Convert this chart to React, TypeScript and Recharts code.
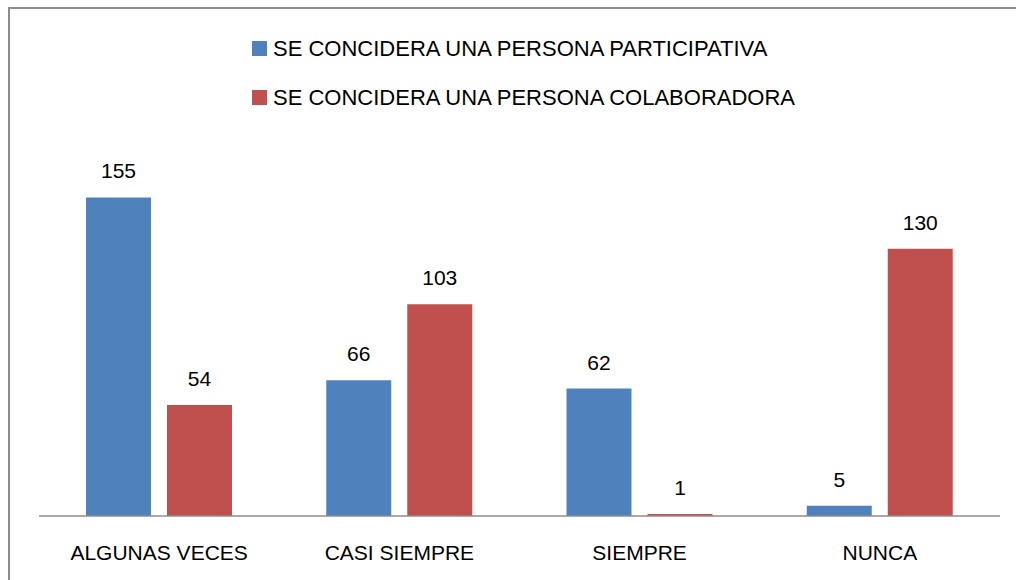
import { BarChart, Bar, XAxis, YAxis, Legend, LabelList } from 'recharts';

const categories = ['ALGUNAS VECES', 'CASI SIEMPRE', 'SIEMPRE', 'NUNCA'];
const participativa = [155, 66, 62, 5];
const colaboradora = [54, 103, 1, 130];

const seriesNames = [
  'SE CONCIDERA UNA PERSONA PARTICIPATIVA',
  'SE CONCIDERA UNA PERSONA COLABORADORA',
];
const seriesColors = ['#4F81BD', '#C0504D'];

const data = categories.map((name, i) => ({
  name,
  participativa: participativa[i],
  colaboradora: colaboradora[i],
}));

const FONT = '"Liberation Sans", Arial, sans-serif';
const FRAME = '#8c8c8c';

const CustomLegend = () => (
  <div style={{ fontFamily: FONT, fontSize: 22, color: '#000' }}>
    {seriesNames.map((n, i) => (
      <div
        key={n}
        style={{
          display: 'flex',
          alignItems: 'center',
          height: 21,
          lineHeight: '21px',
          marginBottom: i === 0 ? 28 : 0,
          whiteSpace: 'nowrap',
        }}
      >
        <span
          style={{
            display: 'inline-block',
            width: 15,
            height: 15,
            background: seriesColors[i],
            marginRight: 6,
          }}
        />
        <span>{n}</span>
      </div>
    ))}
  </div>
);

export default function App() {
  return (
    <div
      style={{
        position: 'fixed',
        left: 0,
        top: 0,
        width: 1016,
        height: 580,
        overflow: 'hidden',
        background: '#fff',
      }}
    >
      {/* chart frame: only the top and left edges fall inside the picture */}
      <div style={{ position: 'absolute', left: 8, top: 7, width: 1008, height: 2, background: FRAME }} />
      <div style={{ position: 'absolute', left: 8, top: 7, width: 2, height: 573, background: FRAME }} />
      <div style={{ position: 'absolute', left: 0, top: 0 }}>
        <BarChart
          width={1016}
          height={580}
          data={data}
          margin={{ top: 146, right: 16, bottom: 34, left: 39 }}
          barCategoryGap={47}
          barGap={16}
        >
          <XAxis
            dataKey="name"
            height={30}
            axisLine={{ stroke: FRAME, strokeWidth: 1.5 }}
            tickLine={false}
            tickSize={0}
            tickMargin={29}
            tick={{ fill: '#000', fontSize: 21, fontFamily: FONT }}
            interval={0}
          />
          <YAxis hide domain={[0, 180]} />
          <Legend
            layout="vertical"
            align="center"
            verticalAlign="middle"
            content={<CustomLegend />}
            wrapperStyle={{ left: 252, top: 38, width: 'auto' }}
          />
          <Bar dataKey="participativa" fill={seriesColors[0]} isAnimationActive={false}>
            <LabelList
              dataKey="participativa"
              position="top"
              offset={19}
              fill="#000"
              fontSize={21}
              fontFamily={FONT}
            />
          </Bar>
          <Bar dataKey="colaboradora" fill={seriesColors[1]} isAnimationActive={false}>
            <LabelList
              dataKey="colaboradora"
              position="top"
              offset={19}
              fill="#000"
              fontSize={21}
              fontFamily={FONT}
            />
          </Bar>
        </BarChart>
      </div>
    </div>
  );
}
